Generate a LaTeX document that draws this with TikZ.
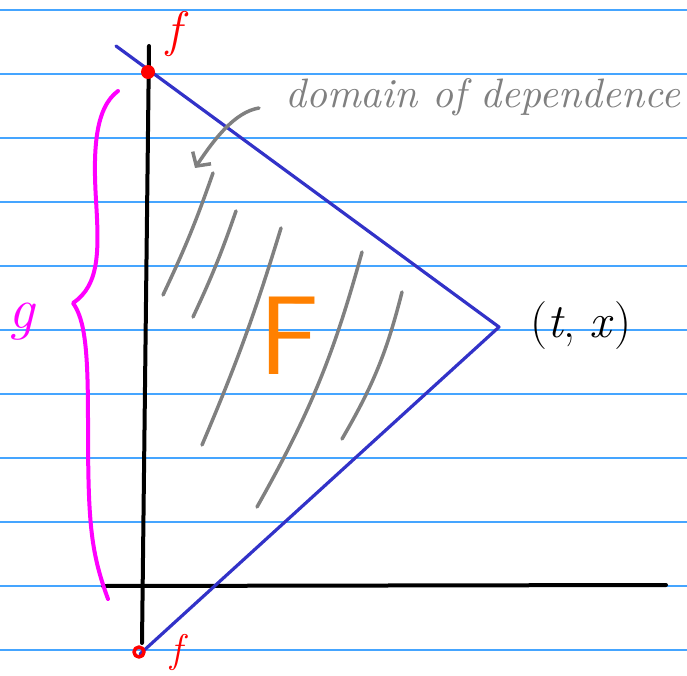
\documentclass[tikz,border=0pt]{standalone}
\usepackage{graphicx}
\usetikzlibrary{arrows.meta}
\definecolor{rulecol}{HTML}{45A5FF}
\definecolor{conecol}{HTML}{3232C8}
\definecolor{hatchcol}{HTML}{808080}
\definecolor{bracecol}{HTML}{FF00FF}
\definecolor{redcol}{HTML}{FF0000}
\definecolor{orangecol}{HTML}{FF8000}
\tikzset{
  ruleline/.style={rulecol, line width=1.6pt},
  axisline/.style={black, line width=4pt},
  coneline/.style={conecol, line width=3.2pt},
  hatchline/.style={hatchcol, line width=3.5pt},
  bracepath/.style={bracecol, line width=4pt},
  hand/.style={font=\fontsize{#1}{#1}\selectfont\itshape},
}
\begin{document}
\begin{tikzpicture}[x=1pt,y=-1pt,line cap=round,line join=round]
\useasboundingbox (0,0) rectangle (687,676);
% ruled paper
\foreach \k in {0,...,10} \draw[ruleline] (0,10+64*\k) -- (687,10+64*\k);
% axes
\coordinate (vtop) at (149,46);
\coordinate (vbot) at (142,643);
\coordinate (hl) at (103,586);
\coordinate (hr) at (666,585);
\draw[axisline] (vtop) -- (vbot);
\draw[axisline] (hl) -- (hr);
% cone
\coordinate (ctop) at (116,46);
\coordinate (apex) at (499,327);
\coordinate (cbot) at (140,654);
\draw[coneline] (ctop) -- (apex) -- (cbot);
% red points
\fill[redcol] (148,72) ellipse (7 and 7);
\draw[redcol, line width=3.5pt] (139,652) circle (5);
\node[redcol, hand=50] (ftop) at (174,34) {f};
\node[redcol, hand=40] (fbot) at (176,652) {f};
% brace g
\draw[bracepath] (118,91) .. controls (95,108) and (93,150) .. (96,200)
  .. controls (99,250) and (100,285) .. (73,303)
  .. controls (85,320) and (88,350) .. (88,420)
  .. controls (88,520) and (90,550) .. (108,599);
\node[bracecol, hand=58] (g) at (22,322) {g};
% hatching
\coordinate (h1a) at (213,173); \coordinate (h1b) at (163,295);
\coordinate (h2a) at (236,211); \coordinate (h2b) at (193,317);
\coordinate (h3a) at (281,228); \coordinate (h3b) at (202,445);
\coordinate (h4a) at (362,252); \coordinate (h4b) at (257,507);
\coordinate (h5a) at (402,292); \coordinate (h5b) at (342,439);
\draw[hatchline] (h1a) to[bend left=3] (h1b);
\draw[hatchline] (h2a) to[bend left=3] (h2b);
\draw[hatchline] (h3a) to[bend left=3] (h3b);
\draw[hatchline] (h4a) to[bend left=7] (h4b);
\draw[hatchline] (h5a) to[bend left=8] (h5b);
% F
\node[orangecol, font=\fontsize{112}{112}\selectfont\sffamily] (F) at (289,336) {F};
% point label
\node[font=\fontsize{48}{48}\selectfont] (pt) at (581,326) {(\textit{t}, \textit{x})};
% domain of dependence
\node[hatchcol, anchor=base west, inner sep=0pt] (dod) at (285,108) {\resizebox{395pt}{!}{\itshape domain of dependence}};
\coordinate (arrS) at (259,108);
\coordinate (arrE) at (195,168);
\draw[hatchcol, line width=3.5pt, -{Straight Barb[length=10pt,width=22pt]}] (arrS) .. controls (235,112) and (215,138) .. (arrE);
\end{tikzpicture}
\end{document}
